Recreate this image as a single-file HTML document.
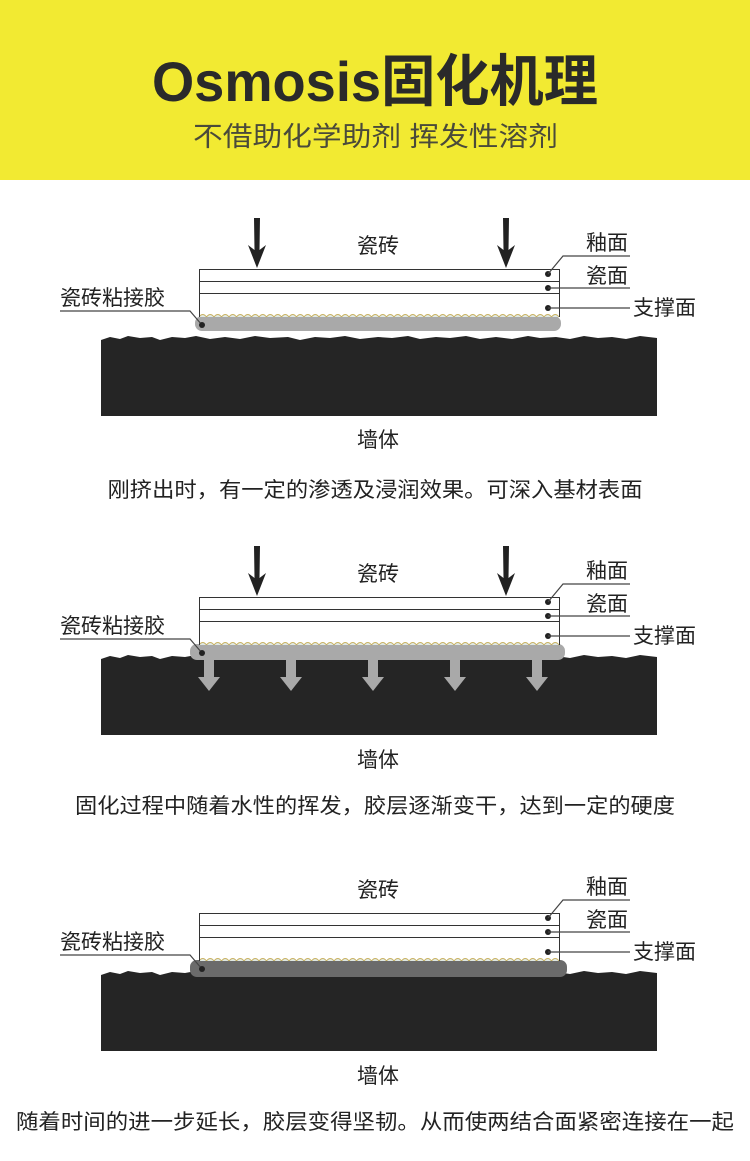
<!DOCTYPE html>
<html><head><meta charset="utf-8"><style>
html,body{margin:0;padding:0;background:#fff;}
svg{display:block;}
text{font-family:"Liberation Sans","Noto Sans CJK SC",sans-serif;}
</style></head><body>
<svg width="750" height="1161" viewBox="0 0 750 1161" xmlns="http://www.w3.org/2000/svg">
<defs>
  <pattern id="wave" x="199" y="0" width="15" height="8" patternUnits="userSpaceOnUse">
    <path d="M0 5 Q3.75 0 7.5 5 Q11.25 0 15 5" fill="#dfe8e4" stroke="#c9b263" stroke-width="1"/>
  </pattern>
  <g id="tile">
    <rect x="199.5" y="269.5" width="360" height="47" fill="#fff" stroke="#333" stroke-width="1"/>
    <line x1="199" y1="281.5" x2="560" y2="281.5" stroke="#333"/>
    <line x1="199" y1="293.5" x2="560" y2="293.5" stroke="#333"/>
    <rect x="200" y="310" width="359" height="7" fill="url(#wave)"/>
    <circle cx="548" cy="274" r="3" fill="#222"/>
    <circle cx="548" cy="288" r="3" fill="#222"/>
    <circle cx="548" cy="308" r="3" fill="#222"/>
    <polyline points="548,274 563,256 630,256" fill="none" stroke="#444" stroke-width="1.2"/>
    <line x1="548" y1="288" x2="630" y2="288" stroke="#444" stroke-width="1.2"/>
    <line x1="548" y1="308" x2="630" y2="308" stroke="#444" stroke-width="1.2"/>
    <polyline points="60,311 190,311 202,325" fill="none" stroke="#444" stroke-width="1.2"/>
  </g>
  <path id="wall" d="M101 340 L110 337 L120 339 L128 336 L140 338 L152 337 L160 340 L172 337 L185 338 L196 336 L210 339 L225 337 L240 339 L255 336 L270 338 L288 337 L300 340 L315 337 L330 338 L345 336 L360 339 L378 337 L392 338 L408 336 L420 339 L436 337 L450 338 L466 336 L480 339 L496 337 L512 339 L528 336 L540 338 L556 337 L570 339 L584 336 L598 338 L612 337 L626 339 L640 336 L657 338 L657 416 L101 416 Z" fill="#252525"/>
  <g id="arrows" fill="#222">
    <path d="M254 218 L260 218 L259.5 250 L266 245 L257 268 L248 245 L254.5 250 Z"/>
    <path d="M503 218 L509 218 L508.5 250 L515 245 L506 268 L497 245 L503.5 250 Z"/>
  </g>
</defs>

<rect x="0" y="0" width="750" height="180" fill="#f2ea32"/>
<text x="152" y="101" textLength="446" lengthAdjust="spacingAndGlyphs" font-size="56" font-weight="bold" fill="#2a2a2a">Osmosis固化机理</text>
<text x="193" y="146" textLength="365" lengthAdjust="spacingAndGlyphs" font-size="27" fill="#4a4a3a">不借助化学助剂 挥发性溶剂</text>

<!-- Panel 1 -->
<use href="#wall"/>
<rect x="195" y="316" width="366" height="15" rx="7" fill="#a9a9a9"/>
<use href="#tile"/>
<circle cx="202" cy="325" r="3" fill="#222"/>
<use href="#arrows"/>
<g font-size="21" fill="#222">
<text x="378" y="253" text-anchor="middle">瓷砖</text>
<text x="586" y="250">釉面</text>
<text x="586" y="283">瓷面</text>
<text x="633" y="315">支撑面</text>
<text x="60" y="305">瓷砖粘接胶</text>
<text x="378" y="447" text-anchor="middle">墙体</text>
<text x="375" y="497" text-anchor="middle" font-size="21" textLength="535" lengthAdjust="spacingAndGlyphs">刚挤出时，有一定的渗透及浸润效果。可深入基材表面</text>
</g>

<!-- Panel 2 -->
<g transform="translate(0,328)">
<use href="#wall" transform="translate(0,-9)"/>
<rect x="190" y="316" width="375" height="16" rx="7" fill="#a9a9a9"/>
<g fill="#a9a9a9">
<path d="M204 331 h10 v18 h6 l-11 14 l-11 -14 h6 z"/>
<path d="M286 331 h10 v18 h6 l-11 14 l-11 -14 h6 z"/>
<path d="M368 331 h10 v18 h6 l-11 14 l-11 -14 h6 z"/>
<path d="M450 331 h10 v18 h6 l-11 14 l-11 -14 h6 z"/>
<path d="M532 331 h10 v18 h6 l-11 14 l-11 -14 h6 z"/>
</g>
<use href="#tile"/>
<circle cx="202" cy="325" r="3" fill="#222"/>
<use href="#arrows"/>
<g font-size="21" fill="#222">
<text x="378" y="253" text-anchor="middle">瓷砖</text>
<text x="586" y="250">釉面</text>
<text x="586" y="283">瓷面</text>
<text x="633" y="315">支撑面</text>
<text x="60" y="305">瓷砖粘接胶</text>
<text x="378" y="439" text-anchor="middle">墙体</text>
<text x="375" y="485" text-anchor="middle" font-size="21" textLength="600" lengthAdjust="spacingAndGlyphs">固化过程中随着水性的挥发，胶层逐渐变干，达到一定的硬度</text>
</g>
</g>

<!-- Panel 3 -->
<g transform="translate(0,644)">
<use href="#wall" transform="translate(0,-9)"/>
<rect x="190" y="316" width="377" height="17" rx="7" fill="#6b6b6b"/>
<use href="#tile"/>
<circle cx="202" cy="325" r="3" fill="#222"/>
<g font-size="21" fill="#222">
<text x="378" y="253" text-anchor="middle">瓷砖</text>
<text x="586" y="250">釉面</text>
<text x="586" y="283">瓷面</text>
<text x="633" y="315">支撑面</text>
<text x="60" y="305">瓷砖粘接胶</text>
<text x="378" y="439" text-anchor="middle">墙体</text>
<text x="375" y="485" text-anchor="middle" font-size="21" textLength="718" lengthAdjust="spacingAndGlyphs">随着时间的进一步延长，胶层变得坚韧。从而使两结合面紧密连接在一起</text>
</g>
</g>
</svg>
</body></html>
